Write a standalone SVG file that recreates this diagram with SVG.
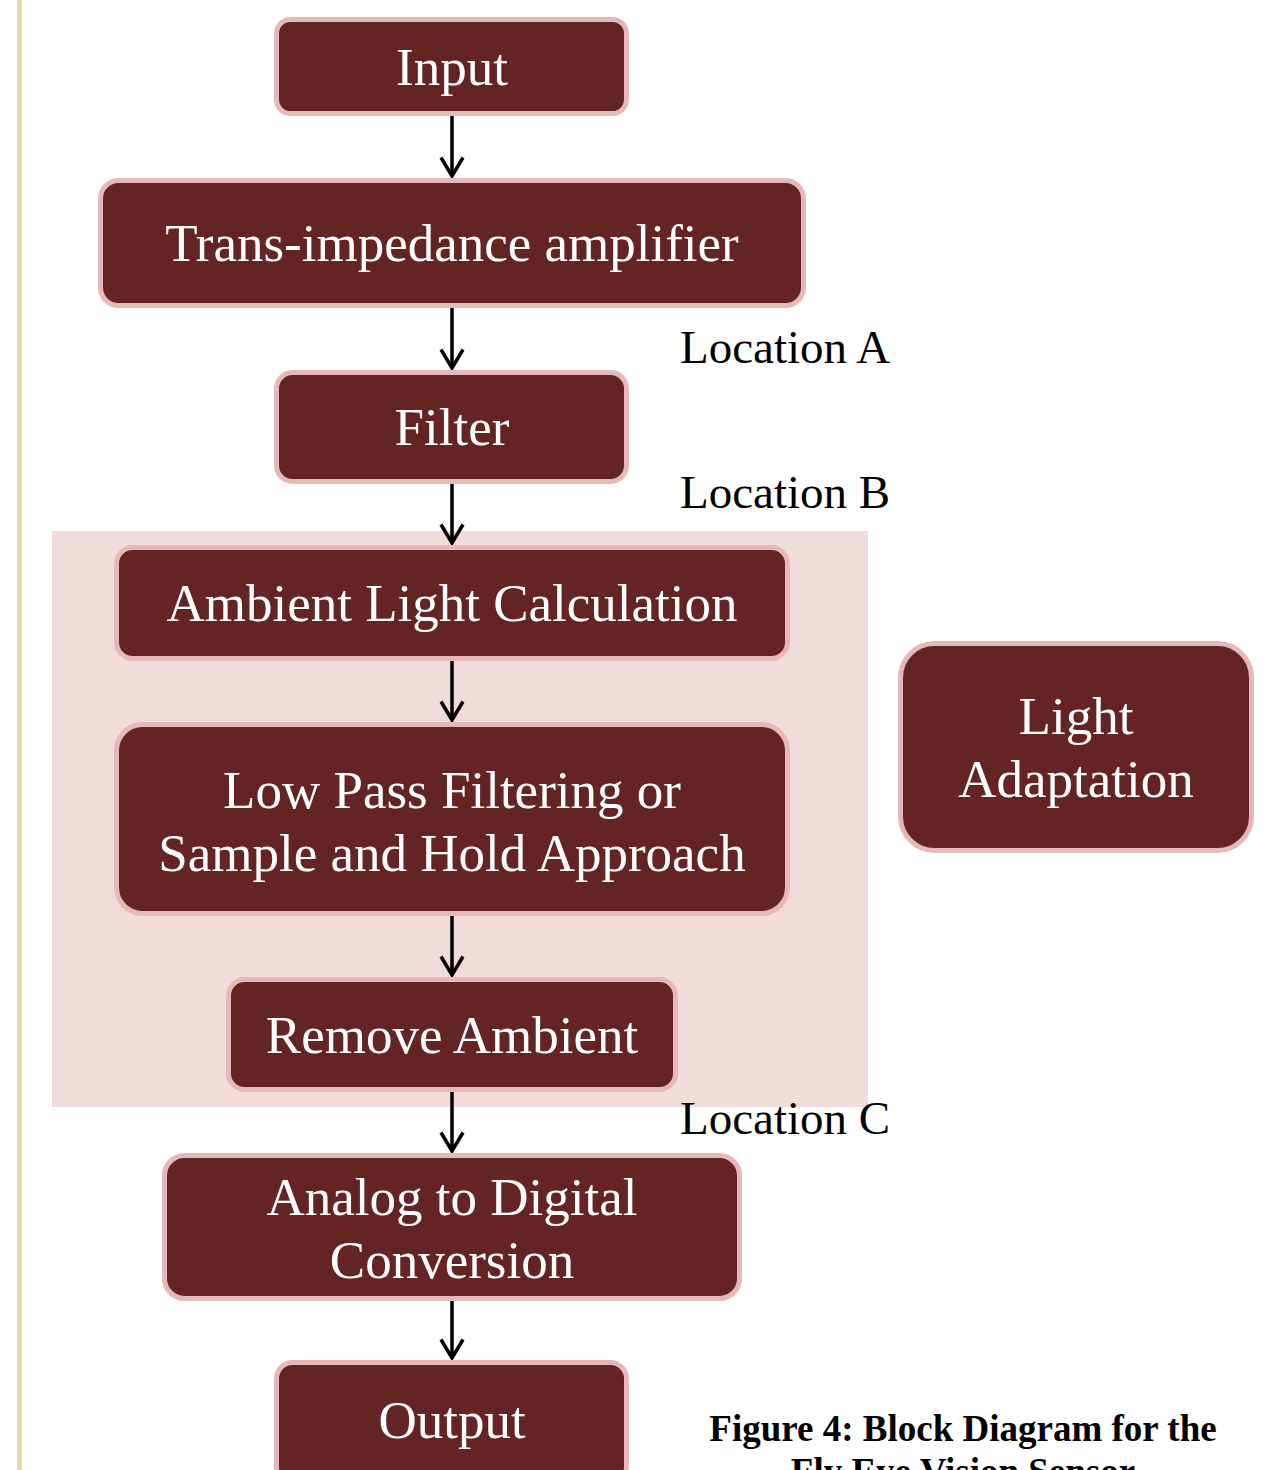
<svg xmlns="http://www.w3.org/2000/svg" width="1273" height="1470" viewBox="0 0 1273 1470">
<style>
.n{fill:#632423;stroke:#e6b9b8;stroke-width:5}
.t{font-family:"Liberation Serif","Times New Roman",serif;font-size:53px;fill:#ffffff;text-anchor:middle}
.l{font-family:"Liberation Serif","Times New Roman",serif;font-size:47px;fill:#000000}
.c{font-family:"Liberation Serif","Times New Roman",serif;font-size:37px;font-weight:bold;fill:#000000;text-anchor:middle}
.e{stroke:#000;stroke-width:3.5;fill:none}
</style>
<defs>
<marker id="ah" markerWidth="22" markerHeight="26" refX="20" refY="13" orient="auto" markerUnits="userSpaceOnUse" viewBox="0 0 22 26">
<path d="M1.5 2 L20 13 L1.5 24" fill="none" stroke="#000" stroke-width="3.5"/>
</marker>
</defs>
<rect width="1273" height="1470" fill="#ffffff"/>
<rect x="17" y="0" width="5" height="1470" fill="#ead5a2"/>
<rect id="group-bg" x="52" y="531" width="816" height="576" fill="#f2dcdb"/>
<g id="connectors">
<path class="e" d="M452 116 V176" marker-end="url(#ah)"/>
<path class="e" d="M452 308 V368" marker-end="url(#ah)"/>
<path class="e" d="M452 484 V543" marker-end="url(#ah)"/>
<path class="e" d="M452 661 V720" marker-end="url(#ah)"/>
<path class="e" d="M452 916 V975" marker-end="url(#ah)"/>
<path class="e" d="M452 1092 V1151" marker-end="url(#ah)"/>
<path class="e" d="M452 1301 V1358" marker-end="url(#ah)"/>
</g>
<g id="input"><rect class="n" x="276.5" y="19.5" width="350" height="94" rx="14"/><text class="t" x="452" y="85">Input</text></g>
<g id="tia"><rect class="n" x="100.5" y="180.5" width="703" height="125" rx="18"/><text class="t" x="452" y="261">Trans-impedance amplifier</text></g>
<g id="filter"><rect class="n" x="276.5" y="372.5" width="350" height="109" rx="16"/><text class="t" x="452" y="445">Filter</text></g>
<g id="ambient"><rect class="n" x="116.5" y="547.5" width="671" height="111" rx="16"/><text class="t" x="452" y="621">Ambient Light Calculation</text></g>
<g id="lowpass"><rect class="n" x="116.5" y="724.5" width="671" height="189" rx="26"/><text class="t" x="452" y="808">Low Pass Filtering or</text><text class="t" x="452" y="871">Sample and Hold Approach</text></g>
<g id="remove"><rect class="n" x="228.5" y="979.5" width="447" height="110" rx="16"/><text class="t" x="452" y="1053">Remove Ambient</text></g>
<g id="light"><rect class="n" x="900.5" y="643.5" width="351" height="207" rx="34"/><text class="t" x="1076" y="734">Light</text><text class="t" x="1076" y="797">Adaptation</text></g>
<g id="adc"><rect class="n" x="164.5" y="1155.5" width="575" height="143" rx="20"/><text class="t" x="452" y="1215">Analog to Digital</text><text class="t" x="452" y="1278">Conversion</text></g>
<g id="output"><rect class="n" x="276.5" y="1362.5" width="350" height="120" rx="16"/><text class="t" x="452" y="1438">Output</text></g>
<text class="l" x="680" y="363">Location A</text>
<text class="l" x="680" y="508">Location B</text>
<text class="l" x="680" y="1134">Location C</text>
<text class="c" x="963" y="1441">Figure 4: Block Diagram for the</text>
<text class="c" x="963" y="1484">Fly Eye Vision Sensor</text>
</svg>
